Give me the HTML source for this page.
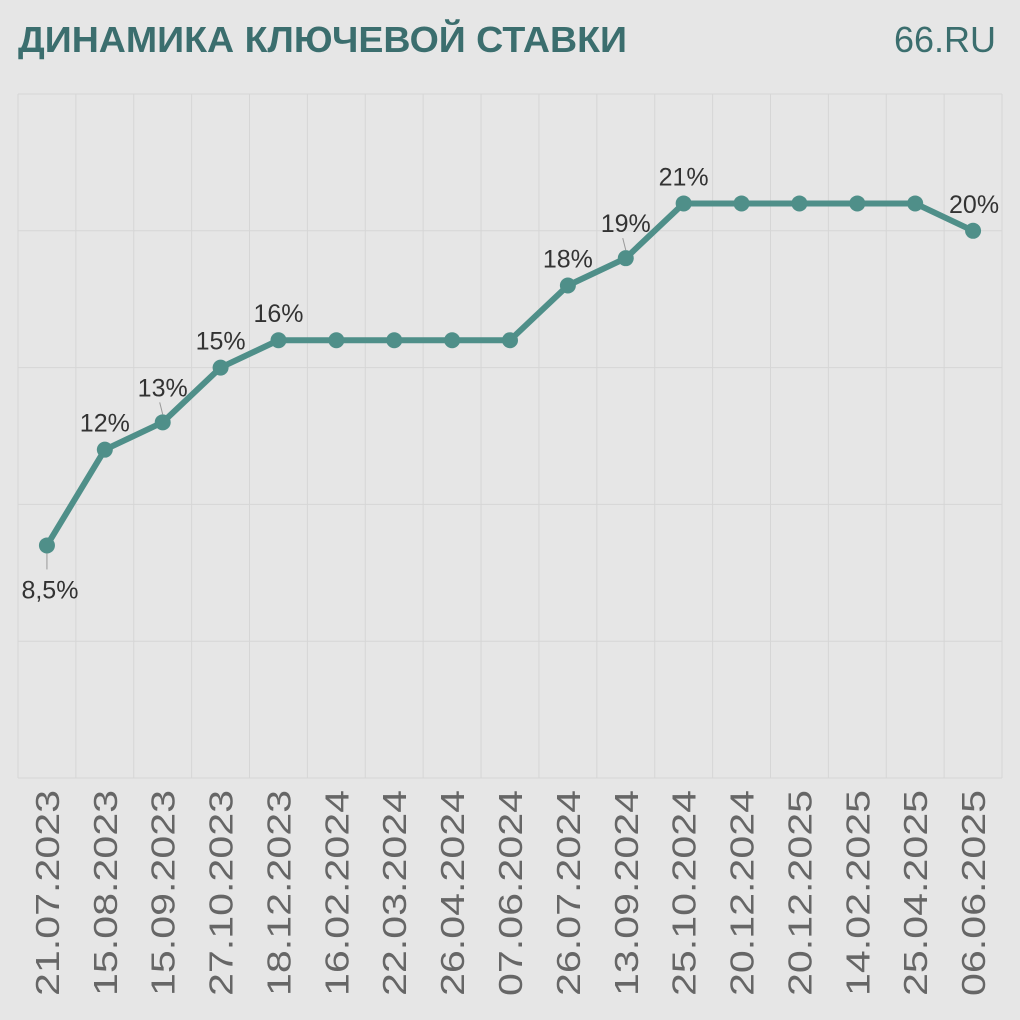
<!DOCTYPE html>
<html><head><meta charset="utf-8"><style>
body{margin:0;background:#e6e6e6;}
svg{display:block;font-family:"Liberation Sans",sans-serif;}
</style></head><body>
<svg id="c" width="1020" height="1020">
<rect width="1020" height="1020" fill="#e6e6e6"/>
<text x="18" y="52" font-size="36" font-weight="bold" fill="#3b6e6e" textLength="609" lengthAdjust="spacingAndGlyphs">ДИНАМИКА КЛЮЧЕВОЙ СТАВКИ</text>
<text x="996" y="52" font-size="36" fill="#3b6e6e" text-anchor="end">66.RU</text>
<g id="grid"></g><g id="xl"></g><g id="line"></g><g id="pts"></g><g id="lbl"></g>
</svg>
<script>
const categories=["21.07.2023","15.08.2023","15.09.2023","27.10.2023","18.12.2023","16.02.2024","22.03.2024","26.04.2024","07.06.2024","26.07.2024","13.09.2024","25.10.2024","20.12.2024","20.12.2025","14.02.2025","25.04.2025","06.06.2025"];
const values=[8.5,12,13,15,16,16,16,16,16,18,19,21,21,21,21,21,20];
const pointLabels=["8,5%","12%","13%","15%","16%","","","","","18%","19%","21%","","","","","20%"];
const yTicks=[0,5,10,15,20,25];
const NS="http://www.w3.org/2000/svg";
const L=18,R=1002,T=94,B=778,YMAX=25;
const bw=(R-L)/categories.length;
const x=i=>L+bw*(i+0.5);
const y=v=>B-(v/YMAX)*(B-T);
function mk(tag,attrs,parent){const e=document.createElementNS(NS,tag);for(const k in attrs)e.setAttribute(k,attrs[k]);document.getElementById(parent).appendChild(e);return e;}
yTicks.forEach(t=>{const e=mk('line',{x1:L,x2:R,y1:y(t),y2:y(t),stroke:'#d6d6d6','stroke-width':1},'grid');

});
for(let i=0;i<=categories.length;i++){const e=mk('line',{x1:L+bw*i,x2:L+bw*i,y1:T,y2:B,stroke:'#d6d6d6','stroke-width':1},'grid');

}
categories.forEach((c,i)=>{const e=mk('text',{x:0,y:0,'font-size':33,fill:'#666','text-anchor':'end',textLength:206,lengthAdjust:'spacingAndGlyphs',transform:`translate(${x(i)+12},790) rotate(-90)`},'xl');e.textContent=c;

});
const p=mk('polyline',{points:values.map((v,i)=>x(i)+','+y(v)).join(' '),fill:'none',stroke:'#4f8f89','stroke-width':6,'stroke-linejoin':'round'},'line');


values.forEach((v,i)=>{const c=mk('circle',{cx:x(i),cy:y(v),r:8,fill:'#4f8f89'},'pts');


const s=pointLabels[i];if(!s)return;
let lx=x(i),ly=y(v)-18;
if(i===0){lx=x(i)+3;ly=y(v)+53;mk('line',{x1:x(i),x2:x(i),y1:y(v)+8,y2:y(v)+24,stroke:'#999','stroke-width':1},'lbl');}
if(i===2||i===10){ly=y(v)-26;mk('line',{x1:x(i),x2:x(i)-3,y1:y(v)-8,y2:y(v)-20,stroke:'#999','stroke-width':1},'lbl');}
if(i===values.length-1){lx=x(i)+1;ly=y(v)-18;}
const t=mk('text',{x:lx,y:ly,'font-size':25,fill:'#333','text-anchor':'middle'},'lbl');t.textContent=s;

});
</script>
</body></html>
